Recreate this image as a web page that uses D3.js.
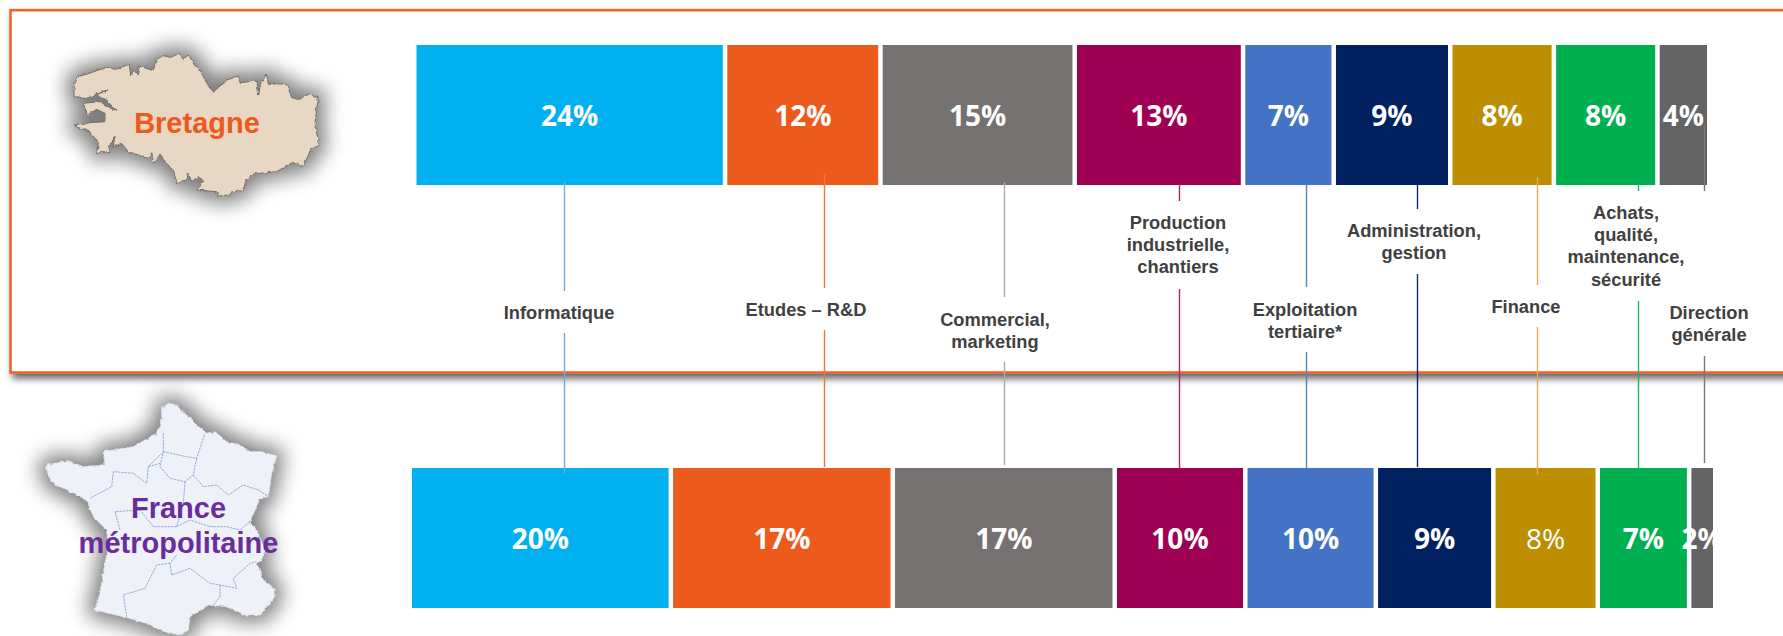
<!DOCTYPE html>
<html lang="fr">
<head>
<meta charset="utf-8">
<title>Répartition par fonction</title>
<script src="https://cdn.jsdelivr.net/npm/d3@7/dist/d3.min.js"></script>
<style>
html,body{margin:0;padding:0;background:#fff;overflow:hidden}
svg{display:block}
.cat{font:bold 18.3px "Liberation Sans",Arial,sans-serif;fill:#404040;text-anchor:middle}
.pct{font-family:"Open Sans",sans-serif;font-size:28px;fill:#fff;text-anchor:middle}
.area{font:bold 29px "Liberation Sans",Arial,sans-serif;text-anchor:middle}
</style>
</head>
<body>
<svg id="chart" width="1783" height="636"></svg>
<script>
// ---------- data ----------
const rows = ["Bretagne", "France métropolitaine"];
const categories = ["Informatique", "Etudes – R&D", "Commercial, marketing", "Production industrielle, chantiers",
  "Exploitation tertiaire*", "Administration, gestion", "Finance", "Achats, qualité, maintenance, sécurité", "Direction générale"];
const bretagneValues = [24, 12, 15, 13, 7, 9, 8, 8, 4];
const franceValues = [20, 17, 17, 10, 10, 9, 8, 7, 2];

// ---------- styles ----------
const barColors = ["#00B0F0", "#EC5A1C", "#767171", "#9E0054", "#4472C4", "#002060", "#BC8E00", "#00B050", "#636363"];
const leaderColors = ["#74A9DF", "#EC7A38", "#ABABAB", "#A6246C", "#5580CE", "#0A2A6C", "#E6A854", "#22B064", "#787878"];

// ---------- layout ----------
const labelLines = [["Informatique"], ["Etudes – R&D"], ["Commercial,", "marketing"], ["Production", "industrielle,", "chantiers"],
  ["Exploitation", "tertiaire*"], ["Administration,", "gestion"], ["Finance"], ["Achats,", "qualité,", "maintenance,", "sécurité"], ["Direction", "générale"]];
const labelCenters = [559, 806, 995, 1178, 1305, 1414, 1526, 1626, 1709];
const labelBaselines = [318.5, 315.5, 326, 228.5, 315.5, 236.5, 313, 218.5, 318.5];
const leaderPositions = [11.39, 31.47, 45.37, 58.88, 68.69, 77.26, 86.53, 94.3, 99.42];
const leaderSpans = [[181,291,333,473],[174,288,330,467],[182,297,362,465],[184,201,289,468],[184,287,352,468],[184,209,274,467],[177,285,327,475],[184,191,301,468],[125,191,356,463]];

// decorative map outlines, in picture pixels times three
const bretagneOutline = [[222,262],[232,230],[262,222],[290,212],[320,202],[345,208],[388,193],[392,228],[402,210],[412,225],[418,198],[460,212],[470,178],[490,167],[510,172],[540,160],[550,178],[565,165],[580,188],[600,210],[615,240],[638,278],[680,240],[712,228],[720,248],[748,245],[770,240],[776,285],[782,250],[800,225],[805,250],[860,253],[875,293],[897,298],[925,282],[955,290],[945,370],[958,437],[935,445],[908,502],[878,487],[830,515],[760,522],[738,540],[730,572],[695,575],[690,585],[655,588],[650,575],[590,570],[612,545],[595,530],[575,545],[565,520],[560,540],[530,548],[520,512],[500,490],[480,465],[460,490],[455,455],[445,475],[415,465],[385,455],[365,430],[340,440],[345,408],[325,440],[330,458],[290,458],[295,430],[270,395],[222,378],[270,368],[315,365],[315,340],[290,328],[262,345],[250,310],[300,305],[350,335],[320,300],[290,285],[325,268],[260,295],[222,290]];
const franceOutline = [[505,220],[530,225],[545,245],[570,260],[590,285],[620,310],[645,305],[680,335],[720,345],[750,365],[785,365],[830,378],[815,430],[805,500],[780,505],[770,530],[750,575],[770,600],[795,660],[785,690],[770,700],[790,750],[825,780],[825,800],[780,855],[730,855],[680,830],[625,825],[570,860],[565,900],[540,915],[495,905],[440,880],[370,860],[285,840],[300,790],[315,700],[325,650],[320,600],[280,560],[260,510],[220,490],[160,460],[140,430],[140,405],[205,392],[250,410],[315,405],[310,365],[400,350],[470,310],[485,270],[485,235]];
const franceBorders = [
  [[490,310],[490,365],[445,410],[440,460],[400,430],[340,425],[335,470],[270,505]],
  [[490,365],[560,380],[590,385],[615,310]],
  [[590,385],[580,435],[555,455],[510,445],[480,410],[490,365]],
  [[445,410],[480,400]],
  [[580,435],[610,470],[650,465],[685,495],[730,465],[775,480],[805,500]],
  [[555,455],[550,520],[530,590],[460,590],[420,540],[345,545],[360,600]],
  [[530,590],[570,570],[630,590],[680,590],[720,600],[750,575]],
  [[530,675],[510,700],[515,735],[570,715],[630,760],[660,765],[710,775],[700,745],[750,700],[770,695]],
  [[510,700],[470,705],[435,775],[370,795],[380,860]],
  [[660,765],[660,800],[640,825]]
];

// ---------- drawing ----------
const svg = d3.select("#chart");
const defs = svg.append("defs");

const frameShadow = defs.append("filter").attr("id","frameShadow")
  .attr("x","-5%").attr("y","-5%").attr("width","110%").attr("height","115%");
frameShadow.append("feDropShadow").attr("dx",3).attr("dy",5).attr("stdDeviation",3.5)
  .attr("flood-color","#000").attr("flood-opacity",0.6);

const halo = defs.append("filter").attr("id","halo")
  .attr("color-interpolation-filters","sRGB")
  .attr("x","-40%").attr("y","-40%").attr("width","180%").attr("height","180%");
halo.append("feTurbulence").attr("type","fractalNoise").attr("baseFrequency",0.22).attr("numOctaves",2).attr("seed",4).attr("result","n");
halo.append("feDisplacementMap").attr("in","SourceGraphic").attr("in2","n").attr("scale",3.5)
  .attr("xChannelSelector","R").attr("yChannelSelector","G").attr("result","rough");
halo.append("feMorphology").attr("in","rough").attr("operator","dilate").attr("radius",6).attr("result","d0");
halo.append("feColorMatrix").attr("in","d0").attr("type","matrix")
  .attr("values","0 0 0 0 0.35  0 0 0 0 0.35  0 0 0 0 0.35  0 0 0 0.78 0").attr("result","d");
halo.append("feGaussianBlur").attr("in","d").attr("stdDeviation",10).attr("result","s");
const hm = halo.append("feMerge");
hm.append("feMergeNode").attr("in","s");
hm.append("feMergeNode").attr("in","rough");

const x = {
  "Bretagne": d3.scaleLinear().domain([0,100]).range([416.5,1711.5]),
  "France métropolitaine": d3.scaleLinear().domain([0,100]).range([412,1717.5])
};
const y = d3.scaleBand().domain(rows).range([45,608]).paddingInner(0.669);
const barGap = 4.5;

// frame
svg.append("rect").attr("x",10.5).attr("y",10.2).attr("width",1900).attr("height",362.3)
  .attr("fill","#fff").attr("stroke","#F0642A").attr("stroke-width",2.6)
  .attr("filter","url(#frameShadow)");

// maps
const mapPath = d3.line().x(d => d[0] / 3).y(d => d[1] / 3).curve(d3.curveLinearClosed);
const openPath = d3.line().x(d => d[0] / 3).y(d => d[1] / 3).curve(d3.curveLinear);

svg.append("path").attr("d", mapPath(bretagneOutline))
  .attr("fill","#E8D7C3").attr("stroke","#77706a").attr("stroke-width",1)
  .attr("filter","url(#halo)");

const franceG = svg.append("g").attr("transform","translate(0,330)");
franceG.append("path").attr("d", mapPath(franceOutline))
  .attr("fill","#EEF1F8").attr("stroke","#dfe5f2").attr("stroke-width",0.8)
  .attr("filter","url(#halo)");
franceG.selectAll("path.border").data(franceBorders).join("path").attr("class","border")
  .attr("d", openPath).attr("fill","none").attr("stroke","#7E9BCB")
  .attr("stroke-width",0.8).attr("stroke-dasharray","2.5 0.8");

// bars
const series = [bretagneValues, franceValues];
rows.forEach((row, r) => {
  const vals = series[r];
  const starts = [0, ...d3.cumsum(vals)];
  const g = svg.append("g").attr("class","row");
  const data = vals.map((v, i) => ({v, i, s: starts[i]}));
  g.selectAll("rect").data(data).join("rect")
    .attr("x", d => x[row](d.s))
    .attr("y", y(row))
    .attr("width", d => x[row](d.s + d.v) - x[row](d.s) - barGap)
    .attr("height", y.bandwidth())
    .attr("fill", d => barColors[d.i]);
});

// leaders
const leaders = svg.append("g").attr("class","leaders");
categories.forEach((c, i) => {
  const lx = Math.round(x["Bretagne"](leaderPositions[i])) + 0.5;
  const sp = leaderSpans[i];
  [[sp[0],sp[1]],[sp[2],sp[3]]].forEach(seg => {
    leaders.append("line").attr("x1",lx).attr("x2",lx).attr("y1",seg[0]).attr("y2",seg[1])
      .attr("stroke",leaderColors[i]).attr("stroke-width",1.4);
  });
});

// percentages
rows.forEach((row, r) => {
  const vals = series[r];
  const starts = [0, ...d3.cumsum(vals)];
  svg.append("g").selectAll("text").data(vals).join("text")
    .attr("class","pct")
    .attr("x", (v, i) => (x[row](starts[i]) + x[row](starts[i] + v) - barGap) / 2)
    .attr("y", y(row) + 81)
    .style("font-weight", (v, i) => (r === 1 && i === 6) ? 400 : 700)
    .text(v => v + "%");
});

// category labels
categories.forEach((c, i) => {
  const t = svg.append("text").attr("class","cat");
  labelLines[i].forEach((ln, k) => {
    t.append("tspan").attr("x",labelCenters[i]).attr("y",labelBaselines[i] + k * 22.4).text(ln);
  });
});

// area names
svg.append("text").attr("class","area").attr("x",197).attr("y",133).attr("fill","#EC5A1C").text("Bretagne");
svg.append("text").attr("class","area").attr("x",178.5).attr("y",518).attr("fill","#6B2C9B").text("France");
svg.append("text").attr("class","area").attr("x",178.5).attr("y",553).attr("fill","#6B2C9B").text("métropolitaine");
</script>
</body>
</html>
